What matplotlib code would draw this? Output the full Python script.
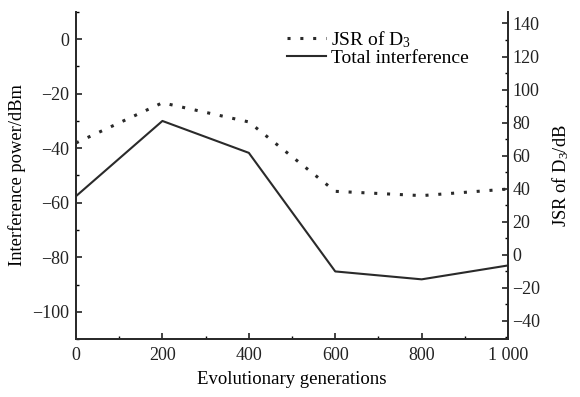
import matplotlib
matplotlib.use("Agg")
import matplotlib.pyplot as plt
from matplotlib.ticker import MultipleLocator, FixedLocator

plt.rcParams['font.family'] = ['Liberation Serif', 'DejaVu Serif']
plt.rcParams['mathtext.fontset'] = 'custom'
plt.rcParams['mathtext.rm'] = 'Liberation Serif'
plt.rcParams['mathtext.it'] = 'Liberation Serif:italic'

generations = [0, 200, 400, 600, 800, 1000]
total_interference = [-57.6, -30.0, -41.7, -85.2, -88.1, -83.0]
jsr_d3 = [67.7, 92.0, 80.4, 38.4, 35.8, 39.8]
x_ticks = [0, 200, 400, 600, 800, 1000]
x_tick_labels = ['0', '200', '400', '600', '800', '1 000']

fig = plt.figure(figsize=(5.8, 3.97), dpi=100)
ax = fig.add_axes([0.131, 0.146, 0.745, 0.824])
ax2 = ax.twinx()

l1, = ax.plot(generations, total_interference, color='#2a2a2a', lw=1.5, label='Total interference')
l2, = ax2.plot(generations, jsr_d3, color='#2a2a2a', lw=2.2, linestyle=(0, (1, 3.2)), label='JSR of D$_3$')

ax.set_xlim(0, 1000)
ax.set_ylim(-110, 10)
ax2.set_ylim(-51, 147)

ax.xaxis.set_major_locator(FixedLocator(x_ticks))
ax.set_xticklabels(x_tick_labels)
ax.xaxis.set_minor_locator(MultipleLocator(100))
ax.yaxis.set_major_locator(MultipleLocator(20))
ax.yaxis.set_minor_locator(MultipleLocator(10))
ax2.yaxis.set_major_locator(MultipleLocator(20))
ax2.yaxis.set_minor_locator(MultipleLocator(10))

for a in (ax, ax2):
    a.spines['top'].set_visible(False)
    for s in a.spines.values():
        s.set_linewidth(1.3)
        s.set_color('#2a2a2a')
    a.tick_params(which='major', direction='in', length=4, width=1.2, labelsize=13, colors='#222222')
    a.tick_params(which='minor', direction='in', length=2.5, width=1.0)
ax.tick_params(axis='x', pad=6)
ax.tick_params(axis='y', pad=5)
ax2.tick_params(axis='y', pad=3)

ax.set_xlabel('Evolutionary generations', fontsize=13.5, labelpad=5)
ax.set_ylabel('Interference power/dBm', fontsize=13.3, labelpad=4)
ax2.set_ylabel('JSR of D$_3$/dB', fontsize=13.3, labelpad=7)

fig.legend(handles=[l2, l1], loc='upper left', bbox_to_anchor=(0.481, 0.947),
           frameon=False, fontsize=14, handlelength=2.0, handletextpad=0.25,
           labelspacing=0.0, borderaxespad=0)

fig.savefig('out.png', dpi=100)
